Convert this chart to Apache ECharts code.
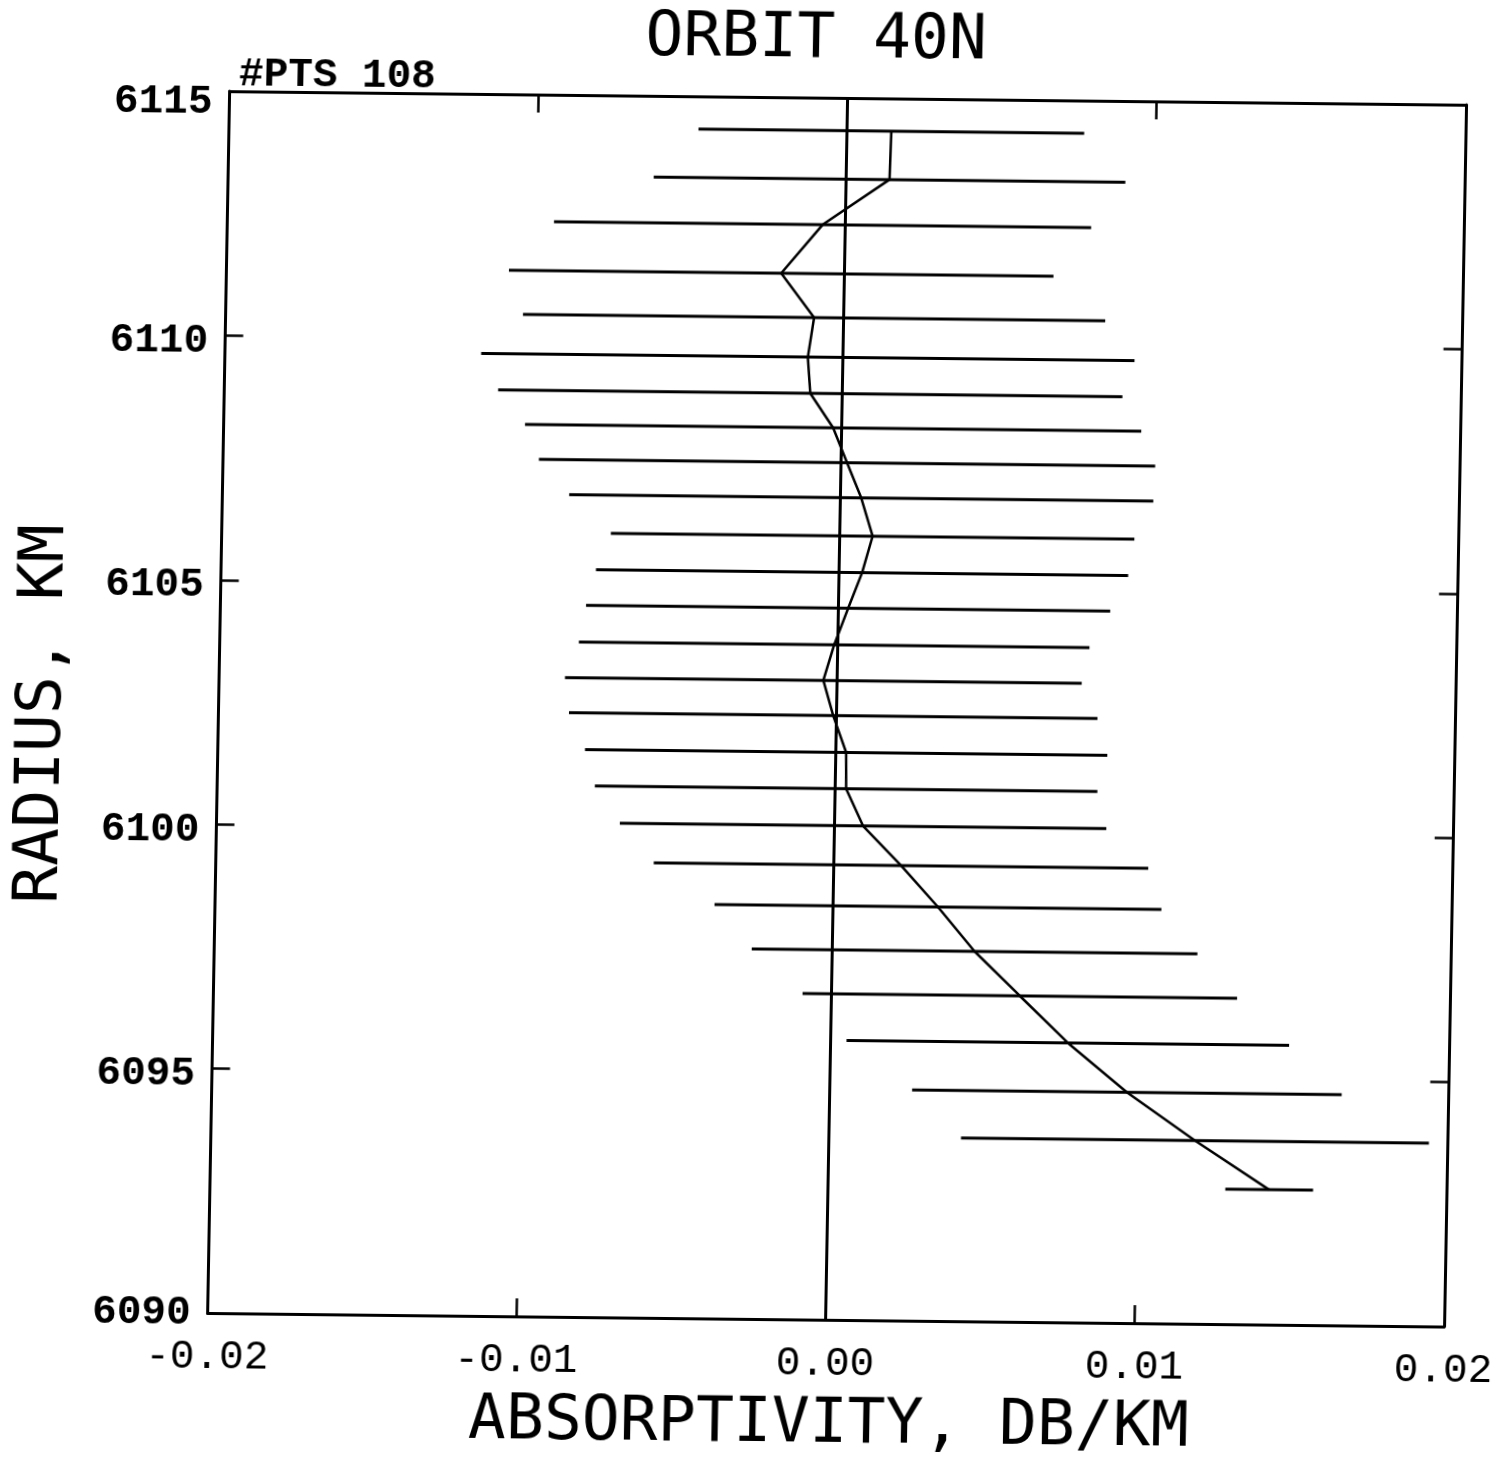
<!DOCTYPE html>
<html>
<head>
<meta charset="utf-8">
<title>ORBIT 40N</title>
<script src="https://cdn.jsdelivr.net/npm/echarts@6/dist/echarts.min.js"></script>
<style>
  html, body { margin: 0; padding: 0; background: #fff; }
  #chart {
    position: absolute; left: 0; top: 0;
    width: 1507px; height: 1462px;
    /* plotter sheet sits slightly skewed on the page */
    transform-origin: 838.5px 717px;
    transform: matrix(1, 0.011, -0.018, 1, 0, 0);
  }
</style>
</head>
<body>
<div id="chart"></div>
<script>
// Radius of each retrieved level (km)
const radius = [6114.33, 6113.34, 6112.40, 6111.40, 6110.50, 6109.69, 6108.95, 6108.25, 6107.54,
                6106.82, 6106.04, 6105.29, 6104.56, 6103.81, 6103.08, 6102.36, 6101.61, 6100.87,
                6100.11, 6099.31, 6098.47, 6097.57, 6096.67, 6095.72, 6094.72, 6093.75, 6092.76];
// Mean absorptivity at each level (dB/km)
const absorb = [0.00143, 0.00140, -0.00074, -0.00205, -0.00096, -0.00114, -0.00104, -0.00028, 0.00019,
                0.00067, 0.00106, 0.00074, 0.00031, -0.00012, -0.00045, -0.00011, 0.00033, 0.00035,
                0.00092, 0.00217, 0.00339, 0.00460, 0.00609, 0.00767, 0.00961, 0.01184, 0.01427];
// Half-width of the uncertainty bar (dB/km)
const sigma = [0.00624, 0.00763, 0.00869, 0.00881, 0.00942, 0.01057, 0.01010, 0.00997, 0.00997,
               0.00945, 0.00847, 0.00861, 0.00848, 0.00826, 0.00836, 0.00855, 0.00845, 0.00813,
               0.00787, 0.00800, 0.00723, 0.00721, 0.00703, 0.00716, 0.00695, 0.00757, 0.00142];
// Axis ranges and tick steps
const xRange = [-0.02, 0.02], xStep = 0.01;
const yRange = [6090, 6115], yStep = 5;
const titleText = 'ORBIT 40N';
const pointsText = '#PTS 108';
const xTitle = 'ABSORPTIVITY, DB/KM';
const yTitle = 'RADIUS, KM';

const chart = echarts.init(document.getElementById('chart'), null, { renderer: 'canvas' });

const plotFont = 'DejaVu Sans Mono';
const tickFont = 'Liberation Mono';

const frameLine = { show: true, onZero: false, lineStyle: { color: '#000', width: 3 } };
const inTicks = { show: true, inside: true, length: 18, lineStyle: { color: '#000', width: 2.5 } };
const yLabelStyle = { fontFamily: tickFont, fontWeight: 'bold', fontSize: 41, color: '#000' };

const option = {
  animation: false,
  backgroundColor: '#fff',
  grid: { left: 218.5, top: 98, width: 1240, height: 1243, containLabel: false },
  graphic: [
    {
      type: 'text', x: 804, y: 41,
      style: { text: titleText, fill: '#000', font: '63px "' + plotFont + '"', align: 'center', verticalAlign: 'middle' }
    },
    {
      type: 'text', x: 326, y: 82,
      style: { text: pointsText, fill: '#000', font: 'bold 41px "' + tickFont + '"', align: 'center', verticalAlign: 'middle' }
    }
  ],
  xAxis: [
    {
      type: 'value', position: 'bottom',
      min: xRange[0], max: xRange[1], interval: xStep,
      axisLine: frameLine, axisTick: inTicks, splitLine: { show: false },
      axisLabel: {
        show: true, margin: 24, color: '#000',
        fontFamily: tickFont, fontSize: 41,
        formatter: v => v.toFixed(2)
      },
      name: xTitle, nameLocation: 'middle', nameGap: 74,
      nameTextStyle: { fontFamily: plotFont, fontSize: 63, color: '#000', padding: [0, 0, 0, 9] }
    },
    {
      type: 'value', position: 'top',
      min: xRange[0], max: xRange[1], interval: xStep,
      axisLine: frameLine, axisTick: inTicks, splitLine: { show: false },
      axisLabel: { show: false }
    }
  ],
  yAxis: [
    {
      type: 'value', position: 'left',
      min: yRange[0], max: yRange[1], interval: yStep,
      axisLine: frameLine, axisTick: inTicks, splitLine: { show: false },
      axisLabel: {
        show: true, margin: 17, color: '#000',
        fontFamily: tickFont, fontWeight: 'bold', fontSize: 41,
        formatter: v => v === yRange[0] ? '{lo|' + v + '}' : (v === yRange[1] ? '{hi|' + v + '}' : '{mid|' + v + '}'),
        rich: {
          lo: Object.assign({ padding: [2, 0, 0, 0] }, yLabelStyle),
          mid: Object.assign({ padding: [12, 0, 0, 0] }, yLabelStyle),
          hi: Object.assign({ padding: [24, 0, 0, 0] }, yLabelStyle)
        }
      },
      name: yTitle, nameLocation: 'middle', nameGap: 143,
      nameTextStyle: { fontFamily: plotFont, fontSize: 63, color: '#000', padding: [0, 28, 0, 0] }
    },
    {
      type: 'value', position: 'right',
      min: yRange[0], max: yRange[1], interval: yStep,
      axisLine: frameLine, axisTick: inTicks, splitLine: { show: false },
      axisLabel: { show: false }
    }
  ],
  series: [
    {
      // horizontal uncertainty bars
      type: 'custom',
      xAxisIndex: 0, yAxisIndex: 0,
      data: radius.map((r, i) => [absorb[i], r, sigma[i]]),
      encode: { x: 0, y: 1 },
      renderItem: function (params, api) {
        const c = api.value(0), r = api.value(1), s = api.value(2);
        const p1 = api.coord([c - s, r]);
        const p2 = api.coord([c + s, r]);
        return {
          type: 'line',
          shape: { x1: p1[0], y1: p1[1], x2: p2[0], y2: p2[1] },
          style: { stroke: '#000', lineWidth: 3 }
        };
      },
      z: 2
    },
    {
      // profile through the bar centres, plus the zero reference line
      type: 'line',
      xAxisIndex: 0, yAxisIndex: 0,
      data: radius.map((r, i) => [absorb[i], r]),
      showSymbol: false, symbol: 'none',
      lineStyle: { color: '#000', width: 2.5 },
      z: 3,
      markLine: {
        silent: true, symbol: ['none', 'none'],
        label: { show: false },
        lineStyle: { color: '#000', width: 3, type: 'solid' },
        data: [{ xAxis: 0 }]
      }
    }
  ]
};

chart.setOption(option);
</script>
</body>
</html>
